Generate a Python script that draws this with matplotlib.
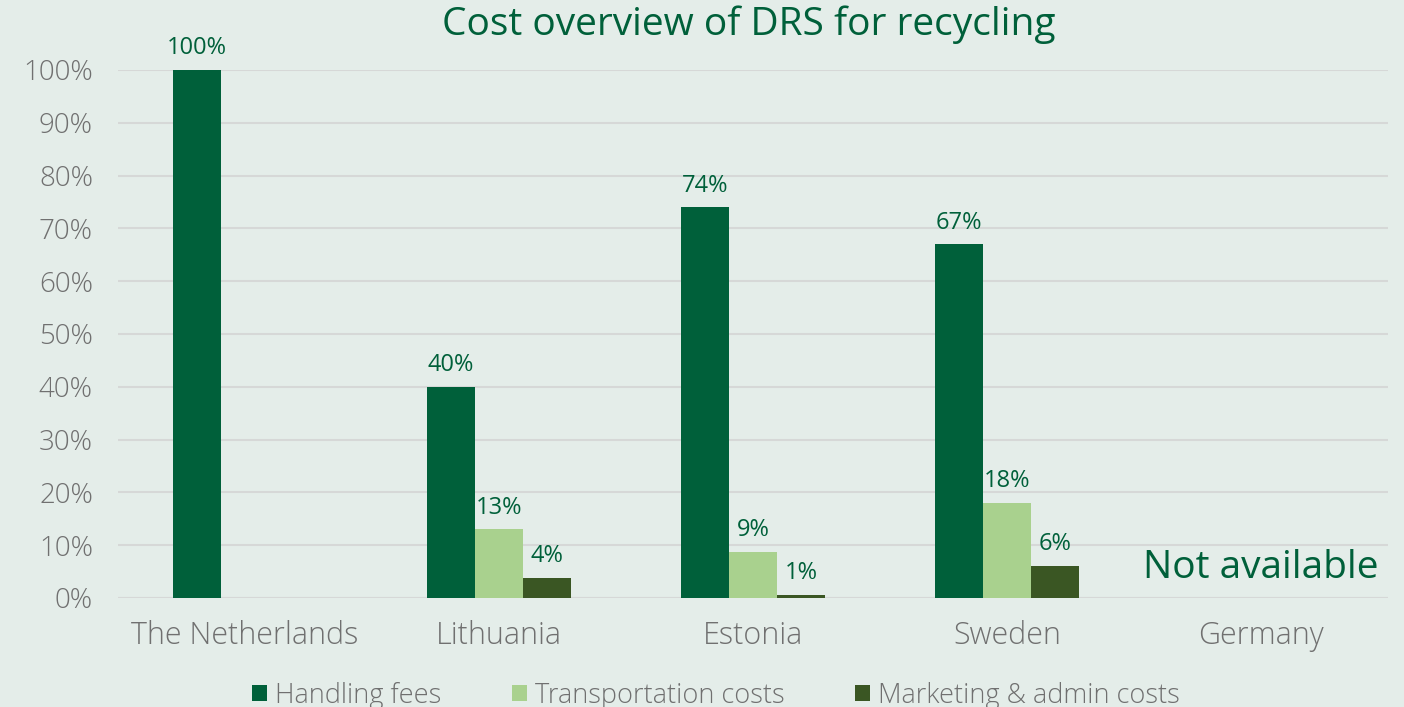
import numpy as np
import matplotlib.pyplot as plt

# dados do grafico
paises = ['The Netherlands', 'Lithuania', 'Estonia', 'Sweden', 'Germany']
series = ['Handling fees', 'Transportation costs', 'Marketing & admin costs']
handling = [1.00, 0.40, 0.74, 0.67, 0]
transporte = [0, 0.13, 0.087, 0.18, 0]
marketing = [0, 0.038, 0.006, 0.061, 0]
rotulos_h = ['100%', '40%', '74%', '67%', '']
rotulos_t = ['', '13%', '9%', '18%', '']
rotulos_m = ['', '4%', '1%', '6%', '']
ticks_y = [0, 0.1, 0.2, 0.3, 0.4, 0.5, 0.6, 0.7, 0.8, 0.9, 1.0]

cores = ['#00603A', '#A9D18E', '#3A5623']
fundo = '#E4EDE9'
verde_txt = '#00603A'
cinza = '#707070'

plt.rcParams['font.family'] = ['Open Sans', 'DejaVu Sans']

fig = plt.figure(figsize=(14.04, 7.07), dpi=100, facecolor=fundo)
ax = fig.add_axes([0.084, 0.1542, 0.9046, 0.7468], facecolor=fundo)

x = np.arange(len(paises))
w = 0.19
valores = [handling, transporte, marketing]
rotulos = [rotulos_h, rotulos_t, rotulos_m]
for i in range(3):
    barras = ax.bar(x + (i - 1) * w, valores[i], w, color=cores[i], label=series[i], zorder=3)
    ax.bar_label(barras, labels=rotulos[i], padding=7, fontsize=17, color=verde_txt)

ax.set_xlim(-0.5, 4.5)
ax.set_ylim(0, 1.0)
ax.set_yticks(ticks_y)
ax.set_yticklabels([f'{int(round(t * 100))}%' for t in ticks_y], fontweight='light')
ax.set_xticks(x)
ax.set_xticklabels(paises, fontweight='light')
ax.tick_params(axis='y', length=0, labelsize=20, labelcolor=cinza, pad=18)
ax.tick_params(axis='x', length=0, labelsize=22, labelcolor=cinza, pad=16)
ax.yaxis.grid(True, color='#D6D8D7', linewidth=1.5, zorder=0)
ax.set_axisbelow(True)
for s in ax.spines.values():
    s.set_visible(False)
ax.axhline(0, color='#D6D8D7', linewidth=1.5, zorder=1)

ax.text(4, 0.02, 'Not available', ha='center', va='bottom', fontsize=28, color=verde_txt)

fig.text(0.533, 0.965, 'Cost overview of DRS for recycling', ha='center', va='center',
         fontsize=28, color=verde_txt)

fig.legend(loc='center', bbox_to_anchor=(0.51, 0.016), ncol=3, frameon=False,
           prop={'size': 19.5, 'weight': 'light'},
           labelcolor=cinza, handlelength=0.55, handleheight=0.55, handletextpad=0.3,
           columnspacing=2.6)

fig.savefig('out.png', dpi=100, facecolor=fundo)
